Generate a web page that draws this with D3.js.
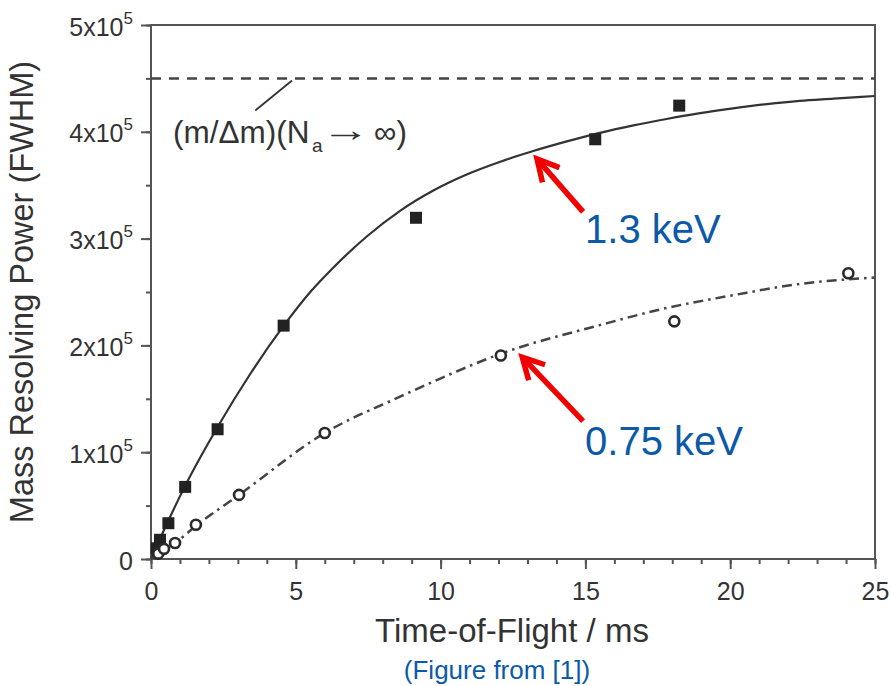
<!DOCTYPE html>
<html>
<head>
<meta charset="utf-8">
<script src="https://cdn.jsdelivr.net/npm/d3@7/dist/d3.min.js"></script>
<style>
  html, body { margin: 0; padding: 0; background: #fff; }
  svg { display: block; font-family: "Liberation Sans", Arial, Helvetica, sans-serif; }
</style>
</head>
<body>
<svg id="chart" width="891" height="686"></svg>
<script>
// Measured points, 1.3 keV ions (filled squares)
const tofHigh = [0.2, 0.31, 0.6, 1.18, 2.3, 4.58, 9.15, 15.34, 18.24];
const mrpHigh = [10000, 18000, 33500, 67500, 121500, 218500, 319500, 393000, 424500];

// Measured points, 0.75 keV ions (open circles)
const tofLow = [0.25, 0.45, 0.83, 1.55, 3.04, 6.0, 12.08, 18.07, 24.08];
const mrpLow = [5000, 9500, 15000, 32000, 60000, 118000, 190500, 222500, 267500];

// Fitted curve, 1.3 keV (solid line)
const fitHighT = [0, 0.6, 1.17, 2.33, 3.42, 4.57, 5.5, 6.3, 7.45, 8.6, 9.75, 10.9, 12.06, 13.2, 14.36, 15.5, 16.66, 17.8, 18.96, 20.1, 21.27, 22.4, 23.57, 25];
const fitHighV = [0, 36000, 68000, 125000, 173000, 218000, 250000, 273000, 302000, 326000, 345000, 360000, 372000, 382000, 391000, 399000, 406000, 412000, 417500, 422000, 426000, 429000, 431000, 433500];

// Fitted curve, 0.75 keV (dash-dot line)
const fitLowT = [0, 0.25, 0.45, 0.83, 1.55, 3.04, 6.0, 8.6, 10.33, 12.06, 15.5, 17.8, 20.1, 22.4, 25];
const fitLowV = [0, 4000, 9000, 15000, 31000, 60000, 118000, 152000, 173000, 192000, 219000, 235000, 247000, 257500, 263500];

// Limit for an infinite number of turns
const limitValue = 450000;

// Axis ticks
const xMajorTicks = [0, 5, 10, 15, 20, 25];
const xMinorTicks = d3.range(0, 26, 1);
const yMajorTicks = [0, 100000, 200000, 300000, 400000, 500000];
const yMantissa = ["0", "1", "2", "3", "4", "5"];
const yMinorTicks = d3.range(0, 500001, 50000);

const svg = d3.select("#chart");
const plotLeft = 151, plotRight = 875, plotTop = 25, plotBottom = 559;

const x = d3.scaleLinear().domain([0, 25]).range([plotLeft, plotRight]);
const y = d3.scaleLinear().domain([0, 500000]).range([plotBottom, plotTop]);

const axisColor = "#555";
const textColor = "#333";
const fontFamily = '"Liberation Sans", Arial, Helvetica, sans-serif';

// Minor ticks
svg.append("g")
  .attr("transform", `translate(0,${plotBottom})`)
  .call(d3.axisBottom(x).tickValues(xMinorTicks).tickSize(5).tickFormat(""))
  .call(g => g.select(".domain").remove())
  .call(g => g.selectAll("line").attr("stroke", axisColor).attr("stroke-width", 2));

svg.append("g")
  .attr("transform", `translate(${plotLeft},0)`)
  .call(d3.axisLeft(y).tickValues(yMinorTicks).tickSize(5).tickFormat(""))
  .call(g => g.select(".domain").remove())
  .call(g => g.selectAll("line").attr("stroke", axisColor).attr("stroke-width", 2));

// Major x axis
svg.append("g")
  .attr("transform", `translate(0,${plotBottom})`)
  .call(d3.axisBottom(x).tickValues(xMajorTicks).tickSize(10).tickSizeOuter(0).tickPadding(13).tickFormat(d3.format("d")))
  .call(g => g.select(".domain").remove())
  .call(g => g.selectAll("line").attr("stroke", axisColor).attr("stroke-width", 2))
  .call(g => g.selectAll("text")
    .attr("fill", textColor)
    .style("font-family", fontFamily)
    .style("font-size", "25px"));

// Major y axis with "Nx10^5" labels
const yAxisG = svg.append("g")
  .attr("transform", `translate(${plotLeft},0)`)
  .call(d3.axisLeft(y).tickValues(yMajorTicks).tickSize(10).tickSizeOuter(0).tickFormat(""))
  .call(g => g.select(".domain").remove())
  .call(g => g.selectAll("line").attr("stroke", axisColor).attr("stroke-width", 2));

yAxisG.selectAll(".tick").each(function(d, i) {
  const t = d3.select(this).append("text")
    .attr("x", -18)
    .attr("y", 10)
    .attr("text-anchor", "end")
    .attr("fill", textColor)
    .style("font-family", fontFamily)
    .style("font-size", "25px");
  if (d === 0) {
    t.text(yMantissa[i]);
  } else {
    t.append("tspan").text(yMantissa[i] + "x10");
    t.append("tspan").attr("dy", -12).style("font-size", "17px").text("5");
  }
});

// Plot frame
svg.append("rect")
  .attr("x", plotLeft).attr("y", plotTop)
  .attr("width", plotRight - plotLeft).attr("height", plotBottom - plotTop)
  .attr("fill", "none")
  .attr("stroke", axisColor)
  .attr("stroke-width", 2);

// Axis titles
svg.append("text")
  .attr("x", 512).attr("y", 642)
  .attr("text-anchor", "middle")
  .attr("fill", textColor)
  .style("font-size", "33px")
  .text("Time-of-Flight / ms");

svg.append("text")
  .attr("transform", "translate(33,292) rotate(-90)")
  .attr("text-anchor", "middle")
  .attr("fill", textColor)
  .style("font-size", "32.5px")
  .text("Mass Resolving Power (FWHM)");

// Asymptotic limit
svg.append("line")
  .attr("x1", x(0)).attr("x2", x(25))
  .attr("y1", y(limitValue)).attr("y2", y(limitValue))
  .attr("stroke", "#444")
  .attr("stroke-width", 2.5)
  .attr("stroke-dasharray", "10,8");

// Fitted curves
const lineGen = d3.line().x(d => x(d[0])).y(d => y(d[1])).curve(d3.curveMonotoneX);

svg.append("path")
  .datum(d3.zip(fitHighT, fitHighV))
  .attr("d", lineGen)
  .attr("fill", "none")
  .attr("stroke", "#333")
  .attr("stroke-width", 2.2);

svg.append("path")
  .datum(d3.zip(fitLowT, fitLowV))
  .attr("d", lineGen)
  .attr("fill", "none")
  .attr("stroke", "#444")
  .attr("stroke-width", 2.5)
  .attr("stroke-dasharray", "10,5,2.5,5");

// Markers
const sq = 12;
svg.append("g").selectAll("rect")
  .data(d3.zip(tofHigh, mrpHigh))
  .join("rect")
  .attr("x", d => x(d[0]) - sq / 2)
  .attr("y", d => y(d[1]) - sq / 2)
  .attr("width", sq).attr("height", sq)
  .attr("fill", "#222");

svg.append("g").selectAll("circle")
  .data(d3.zip(tofLow, mrpLow))
  .join("circle")
  .attr("cx", d => x(d[0]))
  .attr("cy", d => y(d[1]))
  .attr("r", 5)
  .attr("fill", "#fff")
  .attr("stroke", "#2a2a2a")
  .attr("stroke-width", 2.6);

// Limit label with leader line
svg.append("line")
  .attr("x1", x(3.6)).attr("y1", y(420000))
  .attr("x2", x(4.87)).attr("y2", y(448000))
  .attr("stroke", "#333").attr("stroke-width", 1.8);

const lab = svg.append("g").attr("fill", textColor).style("font-size", "31.5px");
lab.append("text").attr("x", 173).attr("y", 143).text("(m/Δm)(N");
lab.append("text").attr("x", 312).attr("y", 152).style("font-size", "19px").text("a");
lab.append("text").attr("transform", "translate(321,141) scale(1.55,1.05)").text("→");
lab.append("text").attr("x", 374).attr("y", 143).text("∞)");

// Energy labels with red arrows
const blue = "#0b5aa8";
const red = "#f20000";
function arrow(tail, tip) {
  const x0 = x(tail[0]), y0 = y(tail[1]);
  const x1 = x(tip[0]), y1 = y(tip[1]);
  const ang = Math.atan2(y0 - y1, x0 - x1);
  const L = 24, spread = 28 * Math.PI / 180;
  const w1 = [x1 + L * Math.cos(ang + spread), y1 + L * Math.sin(ang + spread)];
  const w2 = [x1 + L * Math.cos(ang - spread), y1 + L * Math.sin(ang - spread)];
  svg.append("line")
    .attr("x1", x0).attr("y1", y0).attr("x2", x1 + 2 * Math.cos(ang)).attr("y2", y1 + 2 * Math.sin(ang))
    .attr("stroke", red).attr("stroke-width", 5.5);
  svg.append("path")
    .attr("d", `M${w1[0]},${w1[1]}L${x1},${y1}L${w2[0]},${w2[1]}`)
    .attr("fill", "none").attr("stroke", red).attr("stroke-width", 5.5)
    .attr("stroke-linejoin", "miter");
}
arrow([14.92, 325000], [13.33, 374500]);
arrow([14.92, 129000], [12.82, 189000]);

svg.append("text").attr("x", x(14.99)).attr("y", y(296000))
  .attr("fill", blue).style("font-size", "40px").text("1.3 keV");
svg.append("text").attr("x", x(14.99)).attr("y", y(97400))
  .attr("fill", blue).style("font-size", "40px").text("0.75 keV");

// Source note
svg.append("text").attr("x", 497).attr("y", 679)
  .attr("text-anchor", "middle")
  .attr("fill", blue).style("font-size", "26px")
  .text("(Figure from [1])");
</script>
</body>
</html>
